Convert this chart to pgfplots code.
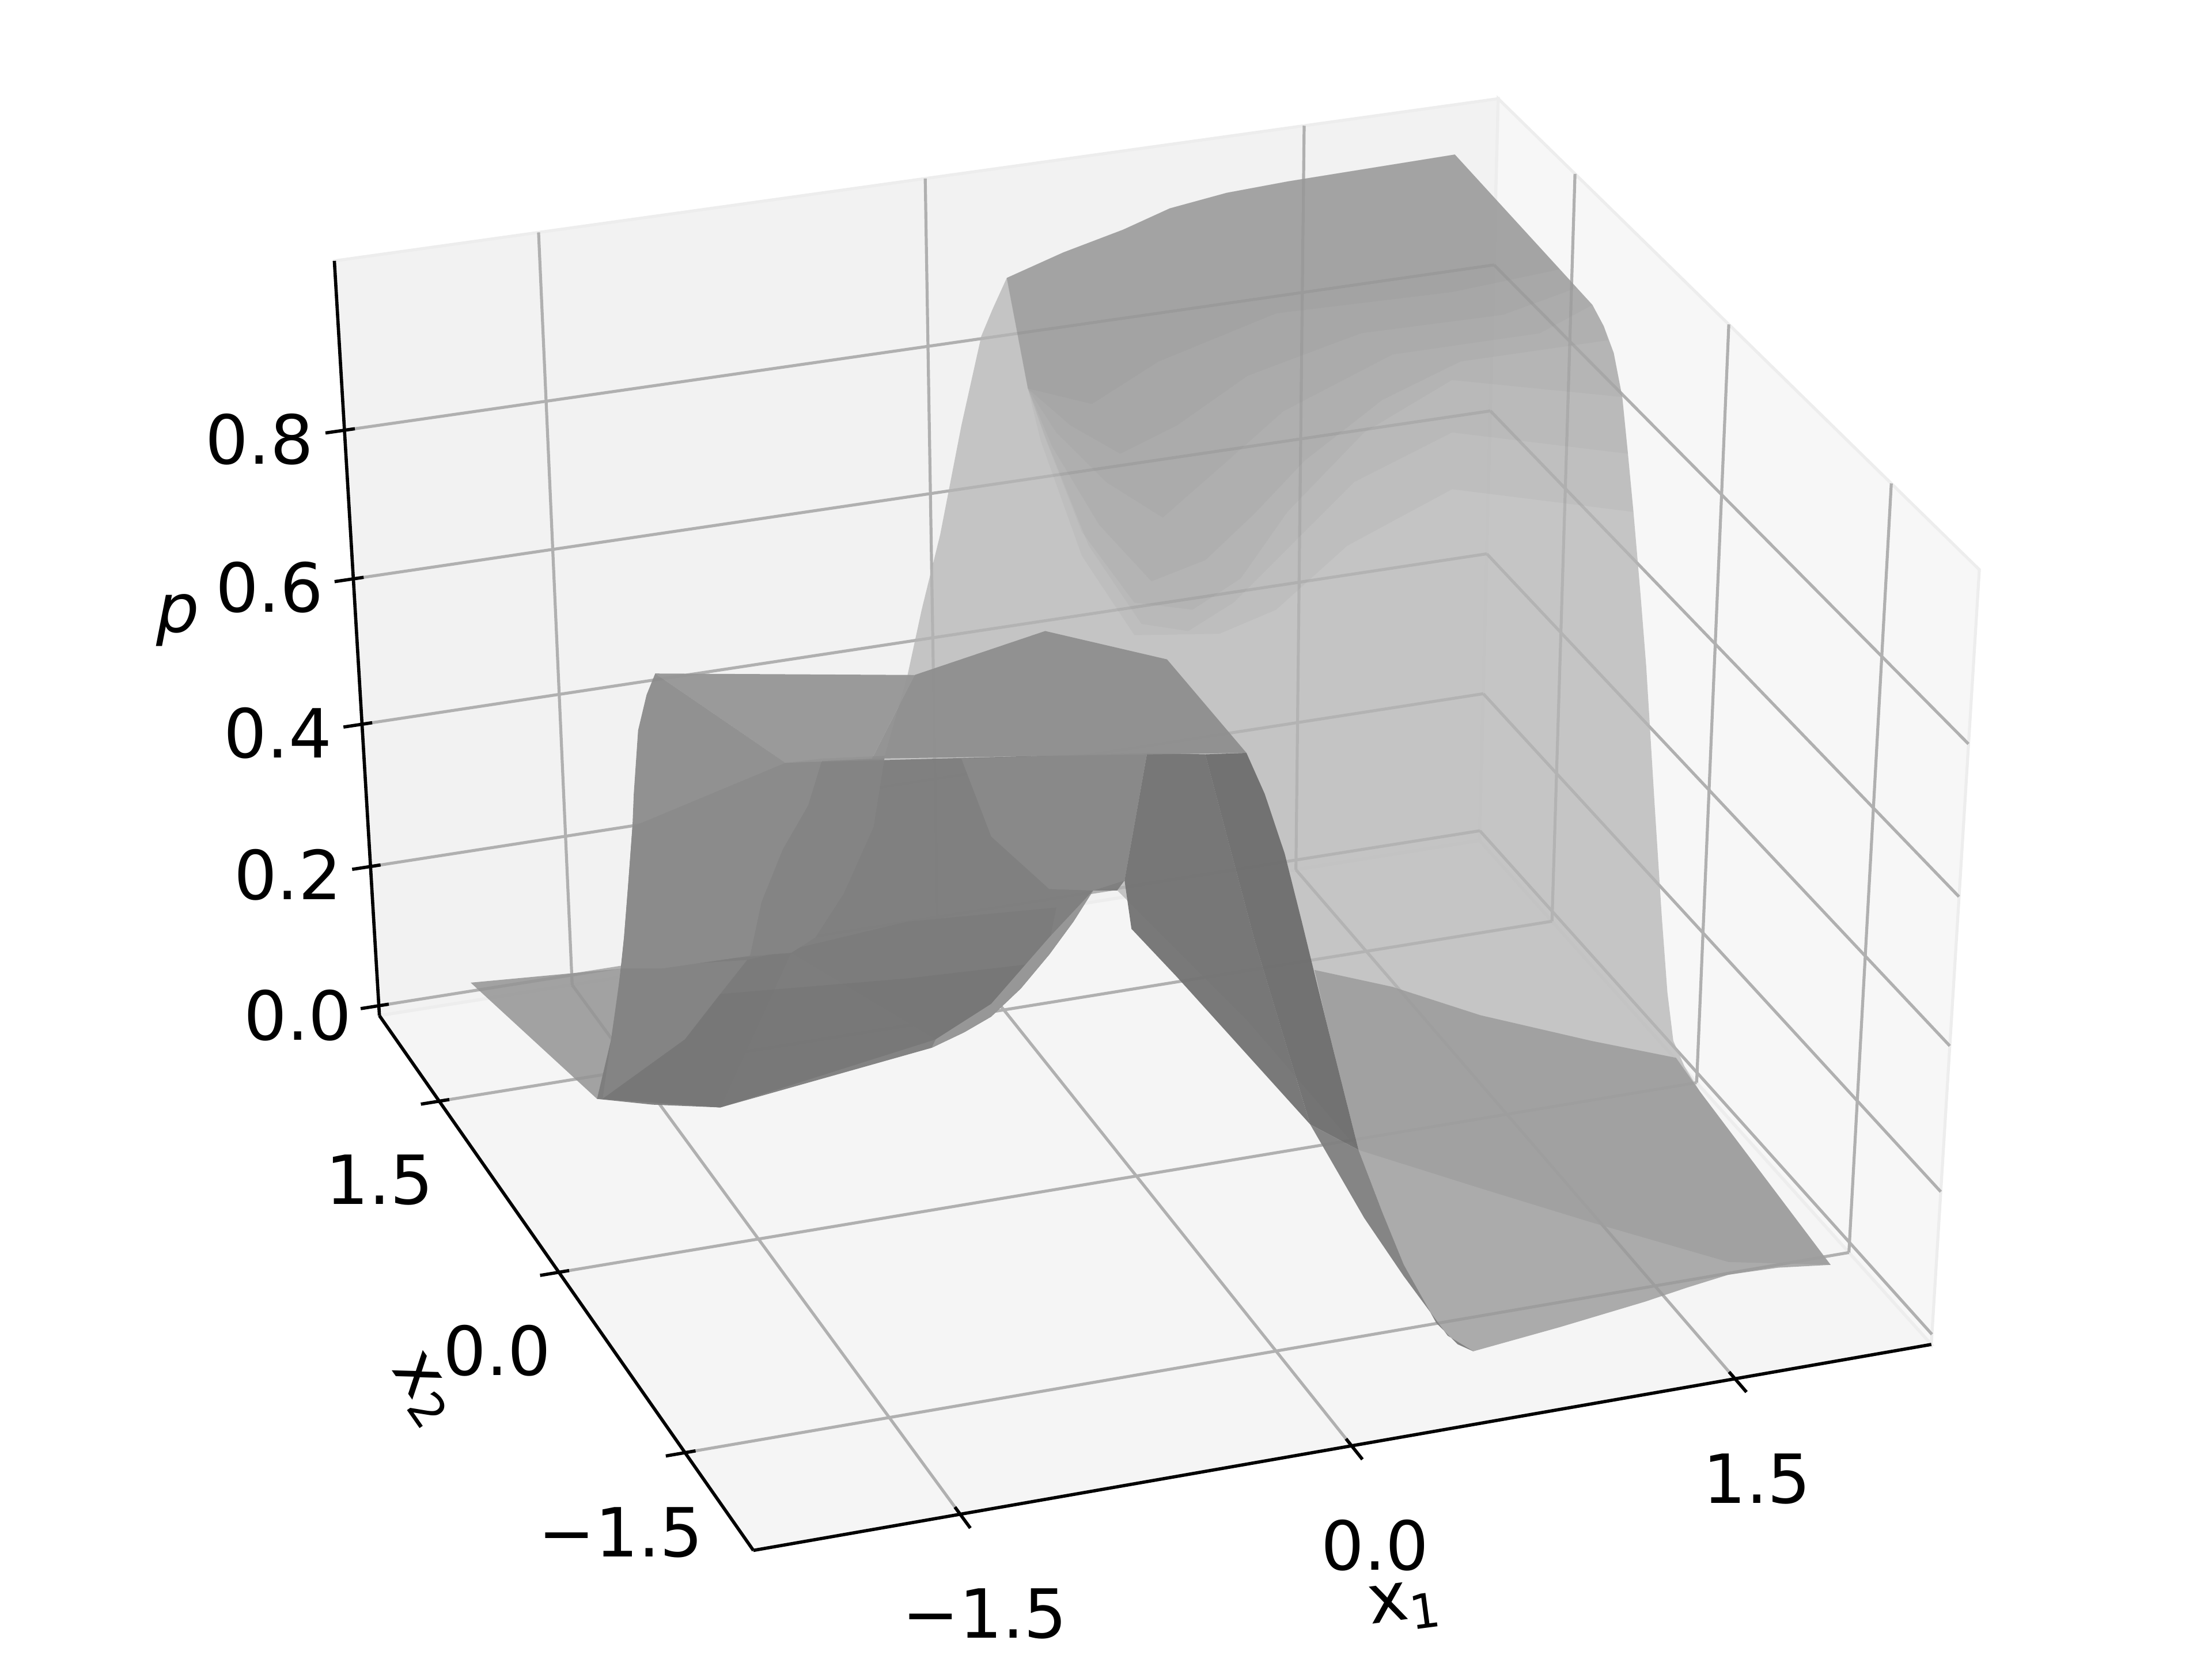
\documentclass[border=0pt]{standalone}
\usepackage{pgfplots}
\pgfplotsset{compat=1.18}
\usepackage{fontspec}
\setmainfont{DejaVu Sans}
\pgfplotsset{table/proj/.style={x expr={PX(\thisrow{x1},\thisrow{x2},\thisrow{p})},y expr={PY(\thisrow{x1},\thisrow{x2},\thisrow{p})}}}
\begin{document}
\begin{tikzpicture}[every node/.style={font=\fontsize{13.6}{15}\selectfont}]
\path[use as bounding box] (0,0) rectangle (15.6cm,11.7cm);
\newcommand{\seg}[7]{\addplot[#1] table[proj,row sep=\\] {x1 x2 p\\ #2 #3 #4\\ #5 #6 #7\\};}
\newcommand{\poly}[3]{\addplot[fill=black!#1,fill opacity=#2,draw=none] table[proj,row sep=\\] {x1 x2 p\\ #3} --cycle;}
\begin{axis}[
    at={(0,0)},anchor=south west,
    scale only axis,width=15.6cm,height=11.7cm,
    xmin=0,xmax=1560,ymin=0,ymax=1170,y dir=reverse,
    hide axis,clip=false,
    declare function={
      U(\a)=(\a+2.28)/4.56; W(\c)=(\c+0.0144)/1.037;
      DD(\a,\b,\c)=1+0.032*U(\a)+0.0838*U(\b)-0.0598*W(\c);
      PX(\a,\b,\c)=(531.3+874.3*U(\a)-241.3*U(\b)-48.55*W(\c))/DD(\a,\b,\c);
      PY(\a,\b,\c)=(1093.4-114.9*U(\a)-317.1*U(\b)-587.9*W(\c))/DD(\a,\b,\c);
    },
    grid line/.style={draw=black!31,line width=0.6pt},
    axis line/.style={draw=black,line width=0.65pt},
]
% panes
\addplot[fill=black!5,draw=black!7,line width=0.6pt] table[proj,row sep=\\] {x1 x2 p\\ -2.28 2.28 -0.0144\\ 2.28 2.28 -0.0144\\ 2.28 2.28 1.0226\\ -2.28 2.28 1.0226\\} --cycle;
\addplot[fill=black!3,draw=black!7,line width=0.6pt] table[proj,row sep=\\] {x1 x2 p\\ 2.28 2.28 -0.0144\\ 2.28 -2.28 -0.0144\\ 2.28 -2.28 1.0226\\ 2.28 2.28 1.0226\\} --cycle;
\addplot[fill=black!4,draw=black!7,line width=0.6pt] table[proj,row sep=\\] {x1 x2 p\\ -2.28 -2.28 -0.0144\\ 2.28 -2.28 -0.0144\\ 2.28 2.28 -0.0144\\ -2.28 2.28 -0.0144\\} --cycle;
% grid
\seg{grid line}{-1.5}{-2.28}{-0.0144}{-1.5}{2.28}{-0.0144}
\seg{grid line}{-1.5}{2.28}{-0.0144}{-1.5}{2.28}{1.0226}
\seg{grid line}{0}{-2.28}{-0.0144}{0}{2.28}{-0.0144}
\seg{grid line}{0}{2.28}{-0.0144}{0}{2.28}{1.0226}
\seg{grid line}{1.5}{-2.28}{-0.0144}{1.5}{2.28}{-0.0144}
\seg{grid line}{1.5}{2.28}{-0.0144}{1.5}{2.28}{1.0226}
\seg{grid line}{-2.28}{-1.5}{-0.0144}{2.28}{-1.5}{-0.0144}
\seg{grid line}{2.28}{-1.5}{-0.0144}{2.28}{-1.5}{1.0226}
\seg{grid line}{-2.28}{0}{-0.0144}{2.28}{0}{-0.0144}
\seg{grid line}{2.28}{0}{-0.0144}{2.28}{0}{1.0226}
\seg{grid line}{-2.28}{1.5}{-0.0144}{2.28}{1.5}{-0.0144}
\seg{grid line}{2.28}{1.5}{-0.0144}{2.28}{1.5}{1.0226}
\seg{grid line}{-2.28}{2.28}{0}{2.28}{2.28}{0}
\seg{grid line}{2.28}{2.28}{0}{2.28}{-2.28}{0}
\seg{grid line}{-2.28}{2.28}{0.2}{2.28}{2.28}{0.2}
\seg{grid line}{2.28}{2.28}{0.2}{2.28}{-2.28}{0.2}
\seg{grid line}{-2.28}{2.28}{0.4}{2.28}{2.28}{0.4}
\seg{grid line}{2.28}{2.28}{0.4}{2.28}{-2.28}{0.4}
\seg{grid line}{-2.28}{2.28}{0.6}{2.28}{2.28}{0.6}
\seg{grid line}{2.28}{2.28}{0.6}{2.28}{-2.28}{0.6}
\seg{grid line}{-2.28}{2.28}{0.8}{2.28}{2.28}{0.8}
\seg{grid line}{2.28}{2.28}{0.8}{2.28}{-2.28}{0.8}
% axes and ticks
\seg{axis line}{-2.28}{-2.28}{-0.0144}{2.28}{-2.28}{-0.0144}
\seg{axis line}{-2.28}{-2.28}{-0.0144}{-2.28}{2.28}{-0.0144}
\seg{axis line}{-2.28}{2.28}{-0.0144}{-2.28}{2.28}{1.0226}
\seg{axis line}{-1.5}{-2.39}{-0.0144}{-1.5}{-2.223}{-0.0144}
\seg{axis line}{0}{-2.39}{-0.0144}{0}{-2.223}{-0.0144}
\seg{axis line}{1.5}{-2.39}{-0.0144}{1.5}{-2.223}{-0.0144}
\seg{axis line}{-2.353}{-1.5}{-0.0144}{-2.24}{-1.5}{-0.0144}
\seg{axis line}{-2.353}{0}{-0.0144}{-2.24}{0}{-0.0144}
\seg{axis line}{-2.353}{1.5}{-0.0144}{-2.24}{1.5}{-0.0144}
\seg{axis line}{-2.353}{2.28}{0}{-2.24}{2.28}{0}
\seg{axis line}{-2.353}{2.28}{0.2}{-2.24}{2.28}{0.2}
\seg{axis line}{-2.353}{2.28}{0.4}{-2.24}{2.28}{0.4}
\seg{axis line}{-2.353}{2.28}{0.6}{-2.24}{2.28}{0.6}
\seg{axis line}{-2.353}{2.28}{0.8}{-2.24}{2.28}{0.8}
% back sheet
\poly{29}{0.75}{0.307 2.255 .88\\ 0.54 2.277 .9\\ 0.8 2.338 .91\\ 0.985 2.335 .93\\ 1.212 2.335 .94\\ 1.44 2.292 .95\\ 1.773 2.24 .96\\ 2.072 2.186 .97\\
2.108 0.876 .94\\ 2.128 0.809 .92\\ 2.151 0.76 .89\\ 2.11 0.566 .86\\ 2.096 0.46 .8\\ 2.076 0.34 .74\\ 2.105 0.312 .63\\ 2.143 0.323 .53\\ 2.108 0.108 .37\\ 2.136 0.065 .22\\ 2.127 -0.039 .13\\ 2.134 -0.098 .07\\ 2.162 -0.15 .04\\ 2.183 -0.262 .02\\
2.121 -1.694 .01\\ 1.774 -1.543 .01\\ 1.415 -1.07 .01\\ 1.128 -0.669 .01\\ 0.812 -0.217 .01\\ 0.717 0.727 .05\\ 0.43 1.394 .15\\ 0.343 1.426 .15\\ 0.148 1.386 .1\\ -0.155 1.202 .05\\ -0.396 1.156 .02\\ -0.676 2.058 .02\\ -0.601 1.983 .05\\ -0.506 1.906 .12\\ -0.462 1.659 .25\\ -0.417 1.641 .35\\ -0.408 1.379 .5\\ -0.335 1.417 .58\\ -0.219 1.53 .66\\ -0.013 1.869 .75\\ 0.174 2.17 .82\\ 0.229 2.196 .85\\}
% darker top of the back sheet
\poly{50}{0.08}{0.307 2.255 .88\\ 0.54 2.277 .9\\ 0.8 2.338 .91\\ 0.985 2.335 .93\\ 1.212 2.335 .94\\ 1.44 2.292 .95\\ 1.773 2.24 .96\\ 2.072 2.186 .97\\ 2.108 0.876 .94\\ 2.128 0.809 .92\\ 2.151 0.76 .89\\ 2.11 0.566 .86\\ 2.096 0.46 .8\\ 2.076 0.34 .74\\
2.075 2.145 .52\\ 1.555 1.913 .5\\ 1.094 1.456 .5\\ 0.816 1.325 .5\\ 0.511 1.423 .5\\ 0.346 1.545 .6\\ 0.217 1.632 .75\\ 0.174 1.649 .82\\}
\poly{50}{0.08}{0.307 2.255 .88\\ 0.54 2.277 .9\\ 0.8 2.338 .91\\ 0.985 2.335 .93\\ 1.212 2.335 .94\\ 1.44 2.292 .95\\ 1.773 2.24 .96\\ 2.072 2.186 .97\\ 2.108 0.876 .94\\ 2.128 0.809 .92\\ 2.151 0.76 .89\\ 2.11 0.566 .86\\ 2.096 0.46 .8\\
2.067 2.139 .6\\ 1.548 1.831 .6\\ 1.065 1.311 .6\\ 0.734 0.955 .6\\ 0.488 0.775 .6\\ 0.347 0.894 .6\\ 0.289 1.307 .65\\ 0.218 1.572 .76\\ 0.174 1.649 .82\\}
\poly{50}{0.08}{0.307 2.255 .88\\ 0.54 2.277 .9\\ 0.8 2.338 .91\\ 0.985 2.335 .93\\ 1.212 2.335 .94\\ 1.44 2.292 .95\\ 1.773 2.24 .96\\ 2.072 2.186 .97\\ 2.108 0.876 .94\\ 2.128 0.809 .92\\ 2.151 0.76 .89\\ 2.11 0.566 .86\\
2.042 2.09 .68\\ 1.551 1.742 .68\\ 1.021 1.155 .68\\ 0.648 0.652 .68\\ 0.386 0.454 .68\\ 0.207 0.586 .68\\ 0.195 1.121 .7\\ 0.203 1.56 .77\\ 0.174 1.649 .82\\}
\poly{50}{0.08}{0.307 2.255 .88\\ 0.54 2.277 .9\\ 0.8 2.338 .91\\ 0.985 2.335 .93\\ 1.212 2.335 .94\\ 1.44 2.292 .95\\ 1.773 2.24 .96\\ 2.072 2.186 .97\\ 2.108 0.876 .94\\ 2.128 0.809 .92\\
2.148 0.812 .9\\ 1.955 1.789 .75\\ 1.549 1.553 .75\\ 1.076 1.126 .75\\ 0.736 0.743 .75\\ 0.421 0.414 .75\\ 0.172 0.306 .75\\ 0.163 0.844 .75\\ 0.171 1.375 .78\\ 0.174 1.649 .82\\}
\poly{50}{0.08}{0.307 2.255 .88\\ 0.54 2.277 .9\\ 0.8 2.338 .91\\ 0.985 2.335 .93\\ 1.212 2.335 .94\\ 1.44 2.292 .95\\ 1.773 2.24 .96\\ 2.072 2.186 .97\\ 2.108 0.876 .94\\
2.203 1.611 .8\\ 1.61 1.613 .8\\ 1.04 1.258 .8\\ 0.638 0.854 .8\\ 0.289 0.507 .8\\ 0.203 0.876 .8\\ 0.183 1.362 .8\\ 0.174 1.649 .82\\}
\poly{50}{0.08}{0.307 2.255 .88\\ 0.54 2.277 .9\\ 0.8 2.338 .91\\ 0.985 2.335 .93\\ 1.212 2.335 .94\\ 1.44 2.292 .95\\ 1.773 2.24 .96\\ 2.072 2.186 .97\\
2.086 0.978 .95\\ 2.031 1.559 .84\\ 1.469 1.578 .84\\ 0.933 1.351 .84\\ 0.529 1.012 .84\\ 0.246 0.842 .84\\ 0.162 1.146 .84\\ 0.174 1.649 .82\\}
\poly{50}{0.08}{0.307 2.255 .88\\ 0.54 2.277 .9\\ 0.8 2.338 .91\\ 0.985 2.335 .93\\ 1.212 2.335 .94\\ 1.44 2.292 .95\\ 1.773 2.24 .96\\ 2.072 2.186 .97\\
2.091 1.161 .95\\ 1.85 1.627 .87\\ 1.161 1.663 .87\\ 0.595 1.39 .87\\ 0.232 1.107 .87\\ 0.174 1.649 .82\\}
% low aprons
\poly{40}{0.8}{0.961 0.658 .12\\ 1.232 0.532 .1\\ 1.525 0.357 .07\\ 1.886 0.119 .05\\ 2.159 -0.072 .04\\ 2.183 -0.262 .02\\ 2.121 -1.694 .01\\ 1.93 -1.648 .01\\ 1.735 -1.637 .01\\ 1.554 -1.679 .01\\ 1.364 -1.73 .01\\ 0.995 -1.809 .01\\ 0.629 -1.876 .01\\ 0.575 -1.856 .02\\ 0.52 -1.777 .04\\ 0.491 -1.517 .08\\ 0.463 -1.364 .13\\ 0.413 -1.241 .2\\ 0.358 -1.034 .35\\}
\poly{42}{0.85}{-1.954 2.119 .04\\ -0.676 2.058 .02\\ -1.334 0.946 .01\\ -1.751 1.175 .01\\}
% front sheet
\poly{51}{0.95}{-1.16 0.564 0.54\\ 0.069 0.071 0.56\\ 0.045 0.25 0.36\\ 0.033 0.296 0.34\\ -0.051 0.326 0.34\\ -0.107 0.39 0.29\\ -0.183 0.446 0.24\\ -0.28 0.495 0.19\\ -0.367 0.59 0.14\\ -0.467 0.613 0.12\\ -0.568 0.7 0.09\\ -1.334 0.946 0.01\\ -1.569 1.057 0.01\\ -1.751 1.175 0.01\\ -1.717 1.07 0.11\\ -1.692 1.037 0.18\\ -1.685 0.955 0.27\\ -1.68 0.894 0.35\\ -1.671 0.838 0.44\\}
\poly{48}{0.95}{-1.689 0.997 0.22\\ -1.241 0.846 0.23\\ -1.336 0.894 0.18\\ -1.456 0.974 0.11\\ -1.731 1.168 0.01\\ -1.717 1.07 0.11\\}
\poly{52}{0.6}{-1.241 0.846 0.23\\ -0.688 0.602 0.29\\ -0.167 0.41 0.31\\ -0.187 0.434 0.26\\ -0.37 0.579 0.16\\ -0.568 0.65 0.11\\ -1.334 0.946 0.01\\ -1.731 1.168 0.01\\ -1.456 0.974 0.11\\ -1.336 0.894 0.18\\}
\poly{54}{0.6}{-1.336 0.894 0.18\\ -0.671 0.664 0.2\\ -0.246 0.508 0.22\\ -0.37 0.579 0.16\\ -0.568 0.65 0.11\\ -1.334 0.946 0.01\\ -1.731 1.168 0.01\\ -1.456 0.974 0.11\\}
\poly{46}{0.95}{-0.564 0.317 0.55\\ 0.069 0.071 0.56\\ 0.045 0.25 0.36\\ -0.051 0.326 0.34\\ -0.2 0.394 0.34\\ -0.436 0.364 0.43\\}
\poly{48}{0.95}{-1.041 0.492 0.55\\ -0.819 0.436 0.55\\ -0.836 0.533 0.44\\ -0.929 0.621 0.34\\ -1.015 0.71 0.27\\ -1.086 0.789 0.24\\ -1.238 0.819 0.24\\ -1.201 0.774 0.32\\ -1.155 0.642 0.41\\ -1.082 0.55 0.48\\}
\poly{45}{0.95}{-1.635 0.599 0.68\\ -1.16 0.564 0.54\\ -1.041 0.492 0.55\\ -1.082 0.55 0.48\\ -1.155 0.642 0.41\\ -1.201 0.774 0.32\\ -1.238 0.819 0.24\\ -1.544 0.944 0.22\\ -1.689 0.997 0.22\\ -1.685 0.955 0.27\\ -1.68 0.894 0.35\\ -1.671 0.838 0.44\\ -1.672 0.802 0.49\\ -1.674 0.71 0.59\\ -1.664 0.621 0.65\\}
\poly{40}{0.95}{-0.051 0.326 0.34\\ -0.107 0.39 0.29\\ -0.183 0.446 0.24\\ -0.28 0.495 0.19\\ -0.367 0.59 0.14\\ -0.467 0.613 0.12\\ -0.568 0.7 0.09\\ -0.568 0.65 0.11\\ -0.37 0.579 0.16\\ -0.195 0.411 0.27\\}
\poly{55}{0.95}{0.091 0.13 0.55\\ 0.287 0.046 0.55\\ 0.277 -0.511 0.38\\ 0.299 -1.042 0.21\\ -0.009 -0.463 0.34\\ -0.132 -0.314 0.39\\ -0.101 -0.155 0.43\\}
\poly{57}{0.95}{0.287 0.046 0.55\\ 0.433 0.006 0.55\\ 0.462 -0.111 0.51\\ 0.464 -0.317 0.46\\ 0.475 -0.472 0.39\\ 0.465 -0.755 0.3\\ 0.434 -1.187 0.19\\ 0.299 -1.042 0.21\\ 0.277 -0.511 0.38\\}
\poly{50}{0.95}{0.434 -1.187 0.19\\ 0.463 -1.364 0.13\\ 0.491 -1.517 0.08\\ 0.541 -1.726 0.03\\ 0.595 -1.805 0.01\\ 0.629 -1.876 0.01\\ 0.585 -1.73 0.01\\ 0.479 -1.548 0.07\\ 0.405 -1.33 0.12\\ 0.299 -1.042 0.21\\}
% plateau
\poly{41}{0.95}{-1.387 1.405 .55\\ -0.487 1.063 .55\\ -0.871 0.429 .55\\ -1.18 0.503 .55\\}
\poly{44}{0.95}{-0.487 1.063 .55\\ 0.099 1.265 .55\\ 0.44 0.872 .55\\ 0.433 0.006 .55\\ -0.871 0.429 .55\\}
% text
\node at (183,310) {0.8};
\node at (190,414.4) {0.6};
\node at (196,517) {0.4};
\node at (203,617) {0.2};
\node at (210,716) {0.0};
\node at (267.7,832) {1.5};
\node at (350.6,952.7) {0.0};
\node at (437.8,1080.6) {−1.5};
\node at (694.5,1138) {−1.5};
\node at (969.6,1090) {0.0};
\node at (1239,1043) {1.5};
\node[rotate=7.5] at (991,1133) {x\textsubscript{1}};
\node[rotate=-55] at (298,981) {x\textsubscript{2}};
\node[font=\fontsize{13.6}{15}\selectfont\itshape] at (125.3,437.5) {p};
\end{axis}
\end{tikzpicture}
\end{document}
